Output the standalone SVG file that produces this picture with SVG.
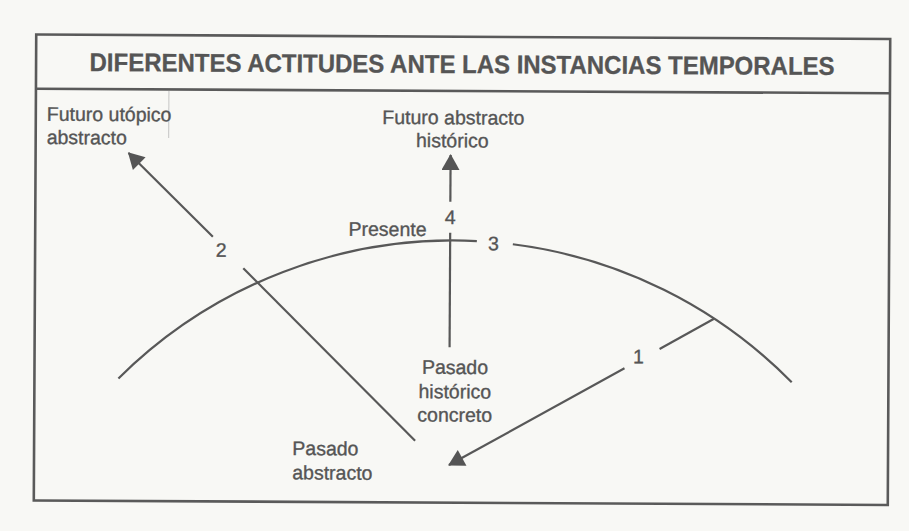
<svg xmlns="http://www.w3.org/2000/svg" width="909" height="531" viewBox="0 0 909 531">
<style>
.lbl{font-family:"Liberation Sans",Arial,Helvetica,sans-serif;font-size:19.5px;fill:#555;stroke:#555;stroke-width:0.35}
.title{font-family:"Liberation Sans",Arial,Helvetica,sans-serif;font-size:25.5px;font-weight:bold;fill:#555;stroke:#555;stroke-width:0.3}
.ln{fill:none;stroke:#585858;stroke-width:2.2;stroke-linecap:butt}
.frame{fill:none;stroke:#5a5a5a;stroke-width:2.6}
</style>
<defs>
<marker id="ah" markerUnits="userSpaceOnUse" markerWidth="18" markerHeight="18" refX="15" refY="9" orient="auto" viewBox="0 0 16 18">
<path d="M0,0 L16,9 L0,18 z" fill="#555"/>
</marker>
</defs>
<rect x="0" y="0" width="909" height="531" fill="#f8f8f5"/>
<g transform="rotate(0.3 462 270)">
<g id="frame">
<rect class="frame" x="35" y="36.7" width="854" height="466"/>
<line class="frame" x1="35" y1="91" x2="889" y2="91" stroke-width="2"/>
<line x1="168" y1="92.5" x2="168" y2="139.5" stroke="#c4c4c4" stroke-width="1"/>
</g>
<g id="title">
<text class="title" x="461" y="73" text-anchor="middle" textLength="745" lengthAdjust="spacingAndGlyphs">DIFERENTES ACTITUDES ANTE LAS INSTANCIAS TEMPORALES</text>
</g>
<g id="connectors">
<path id="presente-arc" class="ln" d="M119,380.25 A475,475 0 0 1 476.7,240.97 M512.7,243.96 A475,475 0 0 1 792.3,380.55"/>
<path id="arrow2" class="ln" d="M212.7,238 L128,154.7" marker-end="url(#ah)"/>
<path id="arrow2b" class="ln" d="M243.3,269.4 L416,441"/>
<path id="arrow4" class="ln" d="M450,201.7 L450,155" marker-end="url(#ah)"/>
<path id="arrow4b" class="ln" d="M450,232.7 L450,347.3"/>
<path id="arrow1" class="ln" d="M714.3,317.5 L660,348"/>
<path id="arrow1b" class="ln" d="M625,367.4 L450,465.1" marker-end="url(#ah)"/>
</g>
<g id="futuro-utopico">
<text class="lbl" x="46" y="122.9">Futuro utópico</text>
<text class="lbl" x="46" y="146.2">abstracto</text>
</g>
<g id="futuro-abstracto">
<text class="lbl" x="452.5" y="124.3" text-anchor="middle">Futuro abstracto</text>
<text class="lbl" x="451.7" y="147.3" text-anchor="middle">histórico</text>
</g>
<g id="presente">
<text class="lbl" x="348.3" y="236.3">Presente</text>
</g>
<g id="pasado-historico">
<text class="lbl" x="455.5" y="374" text-anchor="middle">Pasado</text>
<text class="lbl" x="455.5" y="398.3" text-anchor="middle">histórico</text>
<text class="lbl" x="455.5" y="421.7" text-anchor="middle">concreto</text>
</g>
<g id="pasado-abstracto">
<text class="lbl" x="293.3" y="455.9">Pasado</text>
<text class="lbl" x="293.3" y="480.2">abstracto</text>
</g>
<g id="numbers">
<text class="lbl" x="221" y="258" text-anchor="middle">2</text>
<text class="lbl" x="450" y="224" text-anchor="middle">4</text>
<text class="lbl" x="493.3" y="250" text-anchor="middle">3</text>
<text class="lbl" x="639" y="362.4" text-anchor="middle">1</text>
</g>
</g>
</svg>
